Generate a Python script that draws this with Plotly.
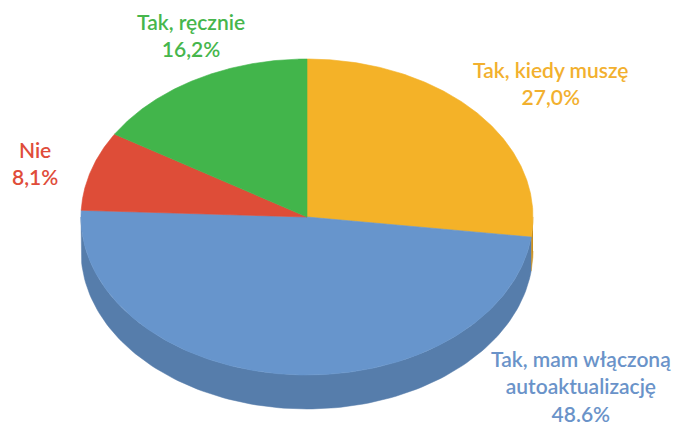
import numpy as np
import plotly.graph_objects as go

# Survey answers (clockwise from 12 o'clock)
categories = ["Tak, kiedy muszę", "Tak, mam włączoną<br>autoaktualizację", "Nie", "Tak, ręcznie"]
shares = [27.0, 48.6, 8.1, 16.2]
share_text = ["27,0%", "48.6%", "8,1%", "16,2%"]

top_colors = ["#f4b228", "#6795cc", "#de4d38", "#42b54b"]
side_colors = ["#c98f1c", "#567dab", "#b03a2a", "#35913c"]
label_colors = ["#f2b02e", "#6a93c9", "#e04c3a", "#46b64c"]

# Projected disc geometry (pixel space of the figure)
W, H = 678, 427
cx, cy = 307, 217
rx, ry = 226, 158
depth = 34


def rim(theta_deg, dy=0.0):
    t = np.radians(theta_deg)
    return cx + rx * np.sin(t), cy - ry * np.cos(t) + dy


fig = go.Figure()

total = sum(shares)
bounds = np.concatenate([[0.0], np.cumsum(shares) / total * 360.0])

# Side wall: only the front half of the rim (90..270 deg) is visible
for i in range(len(shares)):
    a, b = max(bounds[i], 90.0), min(bounds[i + 1], 270.0)
    if b <= a:
        continue
    th = np.linspace(a, b, 120)
    x1, y1 = rim(th)
    x2, y2 = rim(th[::-1], depth)
    fig.add_trace(go.Scatter(
        x=np.concatenate([x1, x2]), y=np.concatenate([y1, y2]),
        fill="toself", fillcolor=side_colors[i], mode="lines",
        line=dict(width=0.5, color=side_colors[i]), hoverinfo="skip", showlegend=False,
    ))

# Top face slices
for i in range(len(shares)):
    th = np.linspace(bounds[i], bounds[i + 1], 200)
    xs, ys = rim(th)
    fig.add_trace(go.Scatter(
        x=np.concatenate([[cx], xs, [cx]]), y=np.concatenate([[cy], ys, [cy]]),
        fill="toself", fillcolor=top_colors[i], mode="lines",
        line=dict(width=0.6, color=top_colors[i]), hoverinfo="skip", showlegend=False,
    ))

# Outside labels
label_pos = [(551, 83), (581, 386), (35, 163), (191, 35)]
for i, (lx, ly) in enumerate(label_pos):
    fig.add_annotation(
        x=lx, y=ly, xref="x", yref="y", showarrow=False,
        text=f"{categories[i]}<br>{share_text[i]}",
        font=dict(family="Lato, 'Open Sans', sans-serif", size=21, weight=600,
                  color=label_colors[i]),
        align="center",
    )

fig.update_layout(
    width=W, height=H,
    margin=dict(l=0, r=0, t=0, b=0),
    paper_bgcolor="white", plot_bgcolor="white",
    xaxis=dict(range=[0, W], visible=False, fixedrange=True),
    yaxis=dict(range=[H, 0], visible=False, fixedrange=True),
)

fig.write_html("out.html")
